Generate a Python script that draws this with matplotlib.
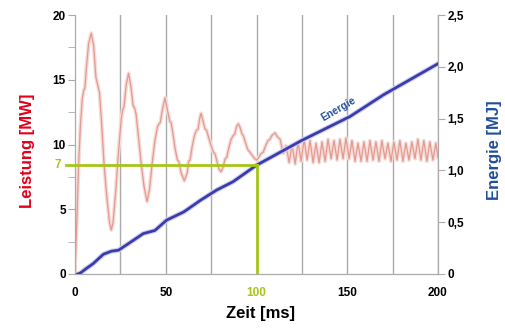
import matplotlib
matplotlib.use("Agg")
import matplotlib.pyplot as plt
from matplotlib.ticker import MultipleLocator, FuncFormatter

plt.rcParams['font.family'] = ['Liberation Sans', 'DejaVu Sans']
plt.rcParams['font.weight'] = 'bold'

# Leistung (MW) ueber Zeit (ms)
t_power = [0, 1, 2, 3, 4, 4.8, 5.4, 6.2, 7.5, 9, 10.3, 11.5, 12.7, 13.5, 14.5, 16, 17.5, 19, 20,
           21, 22.5, 24, 25.5, 26.3, 27, 28.2, 29.5, 30.8, 32, 32.9, 33.7, 35, 36.5, 38, 39.7,
           41, 42.5, 44, 45.5, 46.3, 47, 48.3, 49.6, 51, 52.2, 52.9, 53.8, 55, 56.4, 57.2, 58.5,
           60.2, 61.8, 62.6, 63.4, 64.5, 66, 67, 67.8, 68.7, 69.4, 70.4, 71.6, 72.5, 73.5, 75,
           76.3, 77.1, 78, 79.3, 80.4, 81.5, 82.7, 83.6, 84.5, 86, 87.2, 88, 89, 90, 91, 92,
           92.7, 93.8, 95.2, 96.4, 97.4, 99, 100.1, 101.2, 102.5, 103.7, 105, 106.3, 107.4,
           108.5, 110.2, 111.5,
           113.0, 114.7, 116.3, 118.0, 119.6, 121.3, 122.9, 124.6, 126.2, 127.9, 129.5, 131.2,
           132.8, 134.5, 136.1, 137.8, 139.4, 141.1, 142.7, 144.4, 146.0, 147.7, 149.3, 151.0,
           152.6, 154.3, 155.9, 157.6, 159.2, 160.9, 162.5, 164.2, 165.8, 167.5, 169.1, 170.8,
           172.4, 174.1, 175.7, 177.4, 179.0, 180.7, 182.3, 184.0, 185.6, 187.3, 188.9, 190.6,
           192.2, 193.9, 195.5, 197.2, 198.8, 200.0]
power = [0.3, 4, 8.5, 11.5, 13.5, 14.2, 14.3, 15.8, 17.8, 18.6, 17.6, 15.2, 14.5, 14.0, 12.0, 8.5, 6.0, 4.0, 3.4,
         4.0, 6.5, 9.5, 12.0, 12.7, 12.9, 14.6, 15.5, 14.5, 13.0, 12.8, 12.3, 10.5, 8.5, 6.8, 5.6,
         6.5, 8.5, 10.3, 11.4, 11.6, 11.7, 12.8, 13.6, 12.6, 11.8, 11.7, 11.0, 9.8, 8.8, 8.7, 7.8,
         7.2, 7.8, 8.7, 8.8, 9.8, 10.8, 11.1, 11.2, 12.0, 12.4, 11.9, 11.2, 11.1, 10.6, 9.9,
         9.4, 9.3, 8.8, 8.1, 7.9, 8.2, 8.9, 9.0, 9.6, 10.4, 10.7, 10.8, 11.4, 11.6, 11.3, 10.8,
         10.7, 10.2, 9.6, 9.4, 9.2, 8.9, 8.8, 9.0, 9.3, 9.4, 9.9, 10.3, 10.4,
         10.7, 10.9, 10.6,
         10.4, 9.3, 9.9, 8.6, 10.0, 8.5, 10.2, 8.7, 10.4, 8.8, 10.3, 8.6,
         10.1, 8.6, 10.2, 8.7, 10.4, 8.9, 10.3, 8.8, 10.4, 8.9, 10.5, 8.9,
         10.3, 8.7, 10.1, 8.7, 10.2, 8.7, 10.3, 8.8, 10.2, 8.7, 10.3, 8.9,
         10.1, 8.7, 10.2, 8.8, 10.3, 8.7, 10.1, 8.8, 10.2, 8.9, 10.4, 8.8,
         10.3, 8.7, 10.2, 8.8, 10.1, 9.0]

# Energie (MJ) ueber Zeit (ms)
t_energy = [1.5, 3, 6, 10, 15.6, 20, 24, 30, 37.6, 44, 50.5, 60, 69, 78, 87, 100, 125, 151.5, 170, 200]
energy = [0, 0.01, 0.05, 0.10, 0.19, 0.22, 0.23, 0.30, 0.39, 0.42, 0.52, 0.60, 0.71, 0.81, 0.89,
          1.05, 1.29, 1.52, 1.73, 2.03]

# Markierung
t_mark = 100
e_mark = 1.05
mark_label = "7"

red = '#e3001b'
blue = '#1f4e9c'
green = '#a6c617'
gray = '#aaaaaa'

fig = plt.figure(figsize=(5.06, 3.31), dpi=100)
ax = fig.add_axes([75/506, 57/331, 363/506, 259/331])
ax2 = ax.twinx()

ax.set_xlim(0, 200)
ax.set_ylim(0, 20)
ax2.set_ylim(0, 2.5)

for x in range(25, 201, 25):
    ax.axvline(x, color=gray, lw=1, zorder=0)

ax.plot(t_power, power, color='#f7dcd8', lw=2.8, zorder=2)
ax.plot(t_power, power, color='#e29a91', lw=0.9, zorder=3)

ax2.plot(t_energy, energy, color='#cfd0f0', lw=3.6, zorder=2)
ax2.plot(t_energy, energy, color='#3a3cae', lw=2, zorder=3)

ax2.plot([-5, t_mark], [e_mark, e_mark], color=green, lw=2, clip_on=False, zorder=4)
ax2.plot([t_mark, t_mark], [0, e_mark], color=green, lw=2, zorder=4)
ax2.text(-0.038, e_mark / 2.5, mark_label, transform=ax.transAxes, color=green,
         fontsize=8.5, fontweight='bold', ha='right', va='center')

ax2.text(145, 1.59, "Energie", color=blue, fontsize=7.5, fontweight='bold',
         rotation=30, ha='center', va='center')

ax.xaxis.set_major_locator(MultipleLocator(50))
ax.yaxis.set_major_locator(MultipleLocator(5))
ax.yaxis.set_minor_locator(MultipleLocator(2.5))
ax2.yaxis.set_major_locator(MultipleLocator(0.5))
ax2.yaxis.set_major_formatter(FuncFormatter(lambda v, p: "0" if v == 0 else f"{v:.1f}".replace('.', ',')))

for a in (ax, ax2):
    for s in a.spines.values():
        s.set_color(gray)
    a.spines['top'].set_visible(False)

ax.tick_params(axis='x', length=0, pad=9, labelsize=8.5)
ax.tick_params(axis='y', which='both', length=5, color=gray, pad=1.5, labelsize=8.5)
ax2.tick_params(axis='y', length=5, color=gray, pad=2, labelsize=8.5)

for lbl in ax.get_xticklabels():
    if lbl.get_text() == "100":
        lbl.set_color(green)

ax.set_xlabel("Zeit [ms]", fontsize=12, fontweight='bold')
ax.xaxis.set_label_coords(0.51, -0.125)
ax.set_ylabel("Leistung [MW]", fontsize=12, fontweight='bold', color=red)
ax.yaxis.set_label_coords(-0.11, 0.475)
ax2.set_ylabel("Energie [MJ]", fontsize=12, fontweight='bold', color=blue)
ax2.yaxis.set_label_coords(1.135, 0.479)

fig.savefig("out.png", dpi=100)
